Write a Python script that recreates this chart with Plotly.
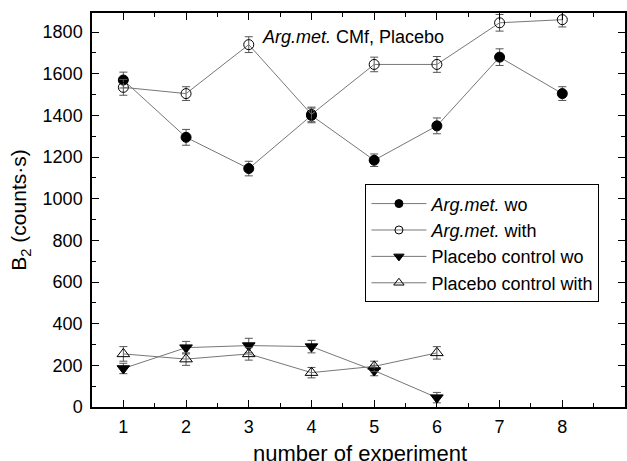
import plotly.graph_objects as go

experiments = [1, 2, 3, 4, 5, 6, 7, 8]
arg_wo = [1570, 1295, 1145, 1400, 1185, 1350, 1680, 1505]
arg_wo_err = [38, 38, 35, 35, 30, 38, 40, 33]
arg_with = [1535, 1505, 1740, 1405, 1645, 1645, 1845, 1860]
arg_with_err = [38, 33, 38, 35, 35, 38, 40, 35]
placebo_exp = [1, 2, 3, 4, 5, 6]
placebo_wo = [185, 285, 295, 290, 175, 45]
placebo_wo_err = [25, 30, 35, 30, 25, 25]
placebo_with = [255, 230, 255, 165, 195, 260]
placebo_with_err = [35, 30, 30, 25, 25, 30]
y_ticks = [0, 200, 400, 600, 800, 1000, 1200, 1400, 1600, 1800]

series = [
    ("<i>Arg.met.</i> wo", experiments, arg_wo, arg_wo_err, "circle", 10),
    ("<i>Arg.met.</i> with", experiments, arg_with, arg_with_err, "circle-open", 10),
    ("Placebo control wo", placebo_exp, placebo_wo, placebo_wo_err, "triangle-down", 11),
    ("Placebo control with", placebo_exp, placebo_with, placebo_with_err, "triangle-up-open", 11),
]

FONT = "Liberation Sans, Arial, sans-serif"
LINE_COL = "#777777"

fig = go.Figure()
for i, (name, xs, ys, errs, sym, size) in enumerate(series):
    fig.add_trace(go.Scatter(
        x=xs, y=ys, name=name, mode="lines+markers", showlegend=False,
        legendgroup=f"g{i}",
        line=dict(color=LINE_COL, width=1),
        marker=dict(symbol=sym, color="black", size=size,
                    line=dict(color="black", width=1)),
        error_y=dict(type="data", array=errs, visible=True,
                     color="#555555", thickness=1, width=4),
    ))
for i, (name, xs, ys, errs, sym, size) in enumerate(series):
    fig.add_trace(go.Scatter(
        x=[None], y=[None], name=name, mode="lines+markers",
        legendgroup=f"g{i}",
        line=dict(color=LINE_COL, width=1),
        marker=dict(symbol=sym, color="black", size=size - 2,
                    line=dict(color="black", width=1)),
    ))

axis_common = dict(
    showline=True, linecolor="black", linewidth=1.5, mirror="ticks",
    ticks="inside", ticklen=7, tickwidth=1.2, tickcolor="black",
    showgrid=False, zeroline=False, automargin=False,
    tickfont=dict(family=FONT, size=18, color="black"),
)

fig.update_layout(
    width=627, height=461,
    margin=dict(l=92, r=2, t=13, b=54),
    paper_bgcolor="white", plot_bgcolor="white",
    font=dict(family=FONT, color="black"),
    xaxis=dict(range=[0.5, 9], tickvals=experiments, ticklabelstandoff=3,
               minor=dict(ticks="inside", ticklen=4, tickcolor="black", dtick=0.5, tick0=0.5),
               **axis_common),
    yaxis=dict(range=[0, 1892], tickvals=y_ticks, ticklabelstandoff=4,
               minor=dict(ticks="inside", ticklen=4, tickcolor="black", dtick=100, tick0=0),
               title=dict(text="B<sub>2</sub> (counts·s)", font=dict(size=21), standoff=10),
               **axis_common),
    legend=dict(x=0.513, y=0.565, xanchor="left", yanchor="top",
                bordercolor="black", borderwidth=1, bgcolor="white",
                font=dict(size=18), tracegroupgap=0, itemwidth=55),
    showlegend=True,
    annotations=[
        dict(text="<i>Arg.met.</i> CMf, Placebo", x=0.49, y=0.938,
             xref="paper", yref="paper", showarrow=False,
             xanchor="center", yanchor="middle", font=dict(size=18)),
        dict(text="number of experiment", x=0.503, y=-0.117,
             xref="paper", yref="paper", showarrow=False,
             xanchor="center", yanchor="middle", font=dict(size=22)),
    ],
)

fig.write_html("out.html", config={"displayModeBar": False},
               post_script="document.body.style.margin='0';")
